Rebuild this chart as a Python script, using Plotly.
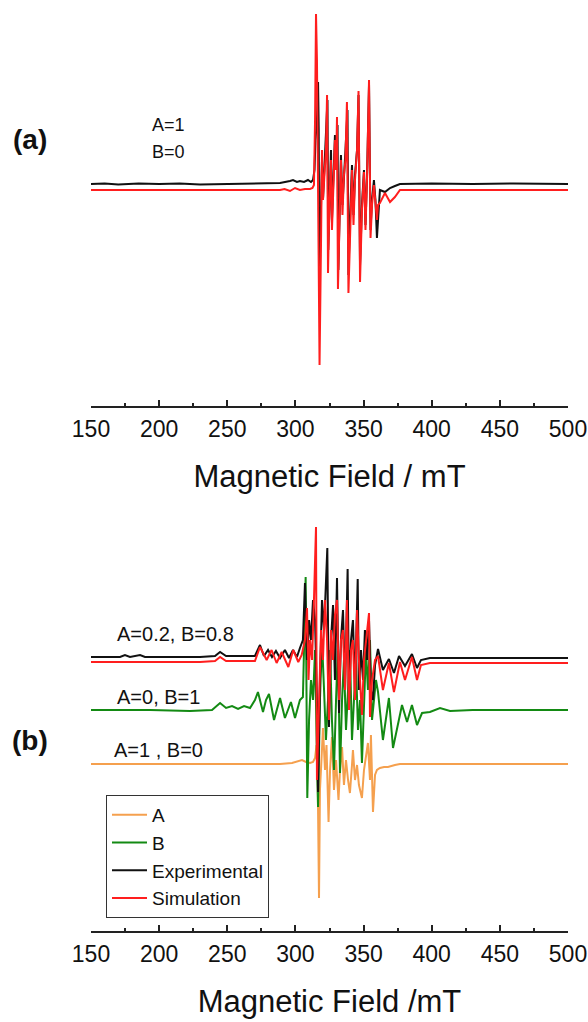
import plotly.graph_objects as go

W, H = 588, 1022

# ---------------- panel (a): A=1, B=0  (field in mT, intensity in a.u.) ----------------
a_exp = [(150,0),(160,0.5),(170,-0.5),(185,0.5),(200,0),(215,0.5),(230,-0.5),(250,0),(270,0.5),
         (288.7,1),(296.0,3),(298.2,4),(301.1,2),(303.3,3),(306.3,2),(309.2,4),(311.4,2),(312.9,4),
         (314.0,14),(314.7,44),(315.8,64),(316.6,102),(317.1,54),(317.5,-116),(318.4,-46),(319.5,24),
         (320.2,-16),(321.3,14),(322.4,44),(323.5,84),(324.1,-66),(325.0,-16),(326.1,34),(326.8,-36),
         (327.9,9),(329.0,49),(329.8,24),(330.9,59),(331.5,-86),(332.3,-31),(333.4,29),(334.5,-21),
         (335.6,14),(336.7,34),(338.2,74),(338.9,-91),(340.0,-36),(341.5,19),(342.6,-31),(343.7,9),
         (345.2,34),(346.3,89),(347.4,-81),(348.8,-21),(350.3,14),(351.4,-41),(352.5,6),(354.0,99),
         (355.1,-46),(356.2,-16),(357.6,4),(358.7,-16),(359.8,-54),(360.6,-31),(362.0,-6),(365.7,-8),
         (369.4,-4),(373.0,-2),(376.7,0),(400,0.5),(430,0),(460,0.5),(500,0)]

a_sim = [(150,0),(200,0),(250,0),(288.7,0),(292,1),(296.0,-1),(299.7,2),(303.3,0),(307.0,1),
         (310.7,1),(312.5,2),(313.6,5),(314.4,70),(315.1,176),(315.8,130),(316.9,-10),(317.7,-175),
         (318.8,-50),(319.5,40),(320.2,-10),(321.3,15),(322.4,40),(323.2,95),(323.9,-83),(325.0,-10),
         (326.1,30),(326.8,-40),(327.9,10),(329.0,50),(329.8,20),(330.5,73),(331.2,-99),(332.3,-30),
         (333.4,30),(334.5,-25),(335.6,15),(336.7,30),(337.8,88),(338.9,-103),(340.0,-40),(341.5,20),
         (342.6,-35),(343.7,10),(345.2,40),(346.3,99),(347.4,-92),(348.8,-20),(350.3,18),(351.4,-40),
         (352.5,10),(354.0,110),(355.1,-48),(356.2,-15),(357.6,5),(358.7,-15),(359.8,-30),(360.6,-15),
         (362.0,-13),(365.7,-3),(369.4,-12),(373.0,-7),(376.7,0),(391.4,0),(450,0),(500,0)]

# ---------------- panel (b): components and mixture A=0.2, B=0.8 ----------------
b_A = [(150,0),(250,0),(288.7,0),(297.5,1),(301.9,3),(304.8,4),(307.8,2),(310.7,1),(312.9,2),
       (314.4,6),(315.5,19),(316.2,4),(317.3,-134),(318.0,-26),(319.1,4),(320.2,36),(321.7,-6),
       (322.8,19),(324.3,-58),(325.4,-6),(326.8,27),(328.3,-26),(329.8,4),(331.6,-36),(332.7,-6),
       (334.2,17),(335.6,-21),(337.1,4),(338.6,-16),(340.0,-29),(341.5,-1),(342.2,14),(343.7,-16),
       (345.2,-1),(346.6,-21),(348.8,-34),(350.3,-6),(351.8,9),(353.2,21),(354.7,-16),(355.4,29),
       (356.9,-48),(358.4,-11),(359.8,-6),(362.0,-4),(365.0,-3),(367.9,-3),(373.0,-1),(376.7,0),
       (450,0),(500,0)]

b_B = [(150,0),(193.3,0),(222.6,-1),(238.8,0),(244.7,7),(249.1,2),(253.5,4),(257.9,1),(262.3,4),
       (266.7,2),(270.3,10),(272.5,18),(276.2,-2),(278.4,10),(280.6,16),(284.3,-10),(288.7,12),
       (292.3,-8),(296.7,8),(299.7,-8),(303.3,10),(305.5,13),(307.5,133),(308.7,-88),(310.0,-10),
       (311.4,30),(312.9,10),(314.4,60),(315.8,-50),(316.6,-97),(318.0,10),(319.5,70),(321.0,20),
       (322.4,-30),(323.9,10),(325.4,60),(326.8,-10),(328.3,-60),(329.8,10),(331.2,65),(332.7,-63),
       (334.2,10),(335.6,50),(337.1,-20),(338.6,20),(340.0,60),(341.5,-30),(343.0,10),(344.4,50),
       (345.9,-20),(347.4,10),(348.8,-53),(350.3,10),(351.8,60),(353.2,20),(354.7,70),(356.2,-10),
       (357.6,10),(359.1,30),(360.6,18),(364.2,-30),(368.6,12),(371.6,-38),(378.2,5),(381.9,-12),
       (385.5,5),(389.2,-15),(392.9,-3),(398.7,-2),(406.1,2),(413.4,-1),(430,0),(460,0),(500,0)]

b_exp = [(150,0),(171.3,0),(174.9,2),(178.6,0),(186.0,2),(189.6,0),(230.0,0),(241.0,1),(244.7,5),
         (249.1,1),(259.3,1),(270.3,1),(274.0,12),(276.9,1),(279.9,7),(282.8,0),(285.7,6),(288.7,-1),
         (292.3,7),(295.3,-1),(298.2,7),(301.1,0),(303.3,9),(305.5,17),(307.0,74),(308.5,-3),
         (310.0,37),(311.4,17),(312.9,57),(314.4,37),(315.8,-43),(316.6,-135),(318.0,-23),(319.5,57),
         (321.0,27),(322.4,77),(323.4,109),(324.6,-70),(326.1,17),(327.6,52),(329.0,-23),(330.5,79),
         (332.0,-56),(333.4,17),(334.9,47),(336.4,-33),(338.3,88),(339.3,-43),(340.8,17),(342.2,37),
         (343.7,-33),(345.7,78),(346.6,-33),(348.1,7),(349.6,-23),(351.0,27),(352.5,-3),(354.0,37),
         (355.4,-33),(356.9,-43),(358.4,-8),(360.6,8),(364.2,-13),(368.6,-2),(372.3,-16),(376.0,1),
         (380.4,-9),(385.5,3),(389.2,-11),(392.1,-3),(398.7,-1),(420,-1),(450,-1),(500,-1)]

b_sim = [(150,0),(200,0),(230,0),(241.0,1),(244.7,5),(249.1,1),(270.3,1),(274.0,15),(278.9,2),
         (282.5,12),(286.2,-1),(289.9,10),(294.8,-5),(298.4,12),(302.1,0),(304.6,7),(305.5,12),
         (307.0,22),(308.5,54),(309.6,-18),(310.7,22),(312.2,2),(313.6,62),(315.1,135),(315.8,-118),
         (317.3,-38),(318.8,32),(320.2,2),(321.7,62),(323.2,22),(324.6,-58),(326.1,32),(327.6,2),
         (329.0,47),(330.5,62),(332.0,-38),(333.4,22),(334.9,32),(336.4,-28),(337.8,62),(339.3,-48),
         (340.8,12),(342.2,22),(343.7,-38),(345.2,52),(346.6,2),(348.8,-53),(350.3,2),(351.8,22),
         (354.0,49),(354.7,-55),(356.2,-18),(358.4,2),(360.6,6),(364.2,-28),(368.6,-1),(372.3,-30),
         (376.7,0),(380.4,-18),(385.5,5),(389.2,-18),(392.1,-3),(398.7,-1),(450,-1),(500,-1)]

tick_vals = [150, 200, 250, 300, 350, 400, 450, 500]
tick_text = ["150", "200", "250", "300", "350", "400", "450", "500"]

# vertical stacking offsets of the traces (display only)
OFF_A_EXP, OFF_A_SIM = 0, -6
OFF_B_EXP, OFF_B_SIM, OFF_B_B, OFF_B_A = 0, -5, -53, -107

COL_A = "#F5A04E"
COL_B = "#138A13"
COL_EXP = "#111111"
COL_SIM = "#FF1E1E"
FONT = "Liberation Sans, Arial, sans-serif"


def xy(pairs, off):
    return [p[0] for p in pairs], [p[1] + off for p in pairs]


fig = go.Figure()

x, y = xy(a_exp, OFF_A_EXP)
fig.add_trace(go.Scatter(x=x, y=y, mode="lines", line=dict(color=COL_EXP, width=2),
                         showlegend=False, xaxis="x", yaxis="y"))
x, y = xy(a_sim, OFF_A_SIM)
fig.add_trace(go.Scatter(x=x, y=y, mode="lines", line=dict(color=COL_SIM, width=2),
                         showlegend=False, xaxis="x", yaxis="y"))

for pairs, off, col, name in [(b_A, OFF_B_A, COL_A, "A"), (b_B, OFF_B_B, COL_B, "B"),
                              (b_exp, OFF_B_EXP, COL_EXP, "Experimental"),
                              (b_sim, OFF_B_SIM, COL_SIM, "Simulation")]:
    x, y = xy(pairs, off)
    fig.add_trace(go.Scatter(x=x, y=y, mode="lines", name=name, line=dict(color=col, width=2),
                             xaxis="x2", yaxis="y2"))

xdom = [91 / W, 568 / W]


def xaxis_cfg(title, anchor):
    return dict(domain=xdom, anchor=anchor, range=[150, 500], tickmode="array", automargin=False,
                tickvals=tick_vals, ticktext=tick_text, ticks="inside", ticklen=6, tickwidth=1.5,
                tickcolor="#222", showline=True, linecolor="#222", linewidth=1.5, showgrid=False,
                zeroline=False, tickfont=dict(family=FONT, size=23, color="#111"),
                ticklabelstandoff=2, ticklabeloverflow="allow",
                minor=dict(ticks="inside", ticklen=3, tickwidth=1.5, tickcolor="#222",
                           tick0=150, dtick=25, showgrid=False),
                title=dict(text=title, font=dict(family=FONT, size=31, color="#111"), standoff=24))


fig.update_layout(
    width=W, height=H, margin=dict(l=0, r=0, t=0, b=0, autoexpand=False),
    paper_bgcolor="white", plot_bgcolor="white",
    xaxis=xaxis_cfg("Magnetic Field / mT", "y"),
    yaxis=dict(domain=[1 - 406 / H, 1 - 5 / H], range=[-222, 179], visible=False,
               automargin=False),
    xaxis2=xaxis_cfg("Magnetic Field /mT", "y2"),
    yaxis2=dict(domain=[1 - 931 / H, 1 - 520 / H], range=[-274, 137], visible=False,
                automargin=False),
    legend=dict(x=106 / W, y=1 - 795 / H, xanchor="left", yanchor="top",
                bordercolor="#333", borderwidth=1, bgcolor="white", itemwidth=35,
                font=dict(family=FONT, size=19, color="#111"), tracegroupgap=0),
    showlegend=True,
)

ann = [
    dict(text="<b>(a)</b>", x=30 / W, y=1 - 139 / H, size=28),
    dict(text="A=1", x=150 / W, y=1 - 125 / H, size=18, left=True),
    dict(text="B=0", x=150 / W, y=1 - 152 / H, size=18, left=True),
    dict(text="<b>(b)</b>", x=30 / W, y=1 - 740 / H, size=28),
    dict(text="A=0.2, B=0.8", x=115 / W, y=1 - 634 / H, size=20, left=True),
    dict(text="A=0, B=1", x=115 / W, y=1 - 697 / H, size=20, left=True),
    dict(text="A=1 , B=0", x=112 / W, y=1 - 750 / H, size=20, left=True),
]
for a in ann:
    fig.add_annotation(text=a["text"], x=a["x"], y=a["y"], xref="paper", yref="paper",
                       xanchor="left" if a.get("left") else "center", yanchor="middle",
                       showarrow=False, font=dict(family=FONT, size=a["size"], color="#111"))

fig.write_html("out.html")
